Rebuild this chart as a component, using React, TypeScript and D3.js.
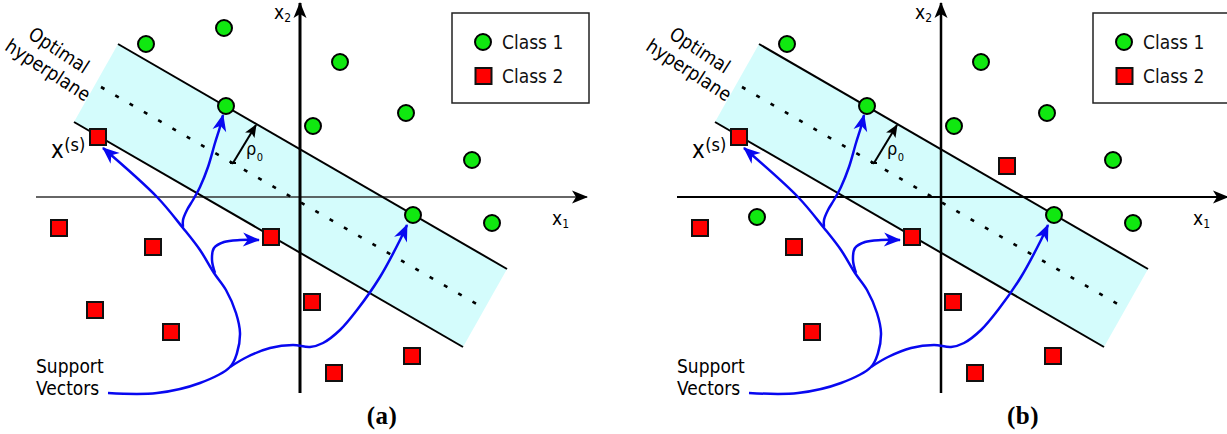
import React from 'react';
import * as d3 from 'd3';

type Pt = [number, number];

// Coordinates are in plot units: origin at the axes crossing, 1 unit = 10 px, y up
const class1A: Pt[] = [
  [-15.4, 15.3], [-7.6, 16.9], [4.0, 13.5], [1.3, 7.1], [10.6, 8.4],
  [17.2, 3.7], [19.2, -2.6], [-7.4, 9.1], [11.3, -1.8],
];
const class2A: Pt[] = [
  [-20.2, 6.0], [-24.1, -3.1], [-14.7, -5.0], [-20.5, -11.3], [-12.9, -13.5],
  [-2.9, -4.0], [1.2, -10.5], [3.4, -17.6], [11.2, -15.9],
];
const class1B: Pt[] = [
  [-15.4, 15.3], [-18.4, -2.0], [4.0, 13.5], [1.3, 7.1], [10.6, 8.4],
  [17.2, 3.7], [19.2, -2.6], [-7.4, 9.1], [11.3, -1.8],
];
const class2B: Pt[] = [
  [-20.2, 6.0], [-24.1, -3.1], [-14.7, -5.0], [6.6, 3.1], [-12.9, -13.5],
  [-2.9, -4.0], [1.2, -10.5], [3.4, -17.6], [11.2, -15.9],
];

const upperMargin: Pt[] = [[-18.2, 15.3], [20.7, -7.2]];
const lowerMargin: Pt[] = [[-22.6, 7.5], [16.3, -15.0]];
const hyperplane: Pt[] = [[-19.9, 11.0], [18.2, -11.0]];
const rhoArrow: Pt[] = [[-6.7, 3.4], [-4.4, 7.2]];
const xAxisLine: Pt[] = [[-26.4, 0], [28.7, 0]];
const yAxisLine: Pt[] = [[0, -19.6], [0, 19.4]];

// support vector pointers (blue)
const toXsCurve: Pt[] = [
  [-19.2, -19.6], [-14.3, -19.6], [-10.0, -18.6], [-7.0, -17.0], [-6.3, -15.6],
  [-6.0, -13.6], [-6.4, -11.6], [-7.4, -9.3], [-8.6, -7.6], [-10.0, -5.3],
  [-11.7, -3.1], [-14.3, 0], [-19.7, 4.9],
];
const toRightCurve: Pt[] = [
  [-7.0, -17.0], [-5.3, -16.0], [-3.0, -15.1], [-0.7, -14.8], [1.0, -15.0],
  [2.3, -14.6], [4.0, -13.3], [5.7, -11.3], [8.0, -8.0], [10.0, -4.3], [10.7, -2.8],
];
const toRedCurve: Pt[] = [
  [-8.5, -7.6], [-8.8, -6.3], [-8.6, -5.1], [-7.6, -4.5], [-6.0, -4.3], [-4.1, -4.3],
];
const toGreenCurve: Pt[] = [
  [-11.7, -3.0], [-11.7, -2.3], [-11.3, -1.3], [-10.7, -0.3], [-10.0, 1.0],
  [-9.2, 3.0], [-8.5, 5.4], [-8.0, 7.0], [-7.7, 8.2],
];

const legendLabels = ['Class 1', 'Class 2'];
const captions = ['(a)', '(b)'];
const panelOffsets = [0, 641];

const FONT = "'DejaVu Sans Condensed', 'DejaVu Sans', sans-serif";
const GREEN = '#10e810';
const RED = '#ff0000';
const BLUE = '#0808f0';
const CYAN = '#d4fcfc';

const x = d3.scaleLinear().domain([-30, 30]).range([0, 600]);
const y = d3.scaleLinear().domain([-20, 20]).range([397, -3]);

const smooth = d3.line<Pt>().x(d => x(d[0])).y(d => y(d[1])).curve(d3.curveCatmullRom.alpha(0.5));
const straight = d3.line<Pt>().x(d => x(d[0])).y(d => y(d[1]));

interface PanelProps {
  idx: number;
  class1: Pt[];
  class2: Pt[];
  xAxisWidth: number;
  xAxisColor: string;
  yAxisWidth: number;
}

const Panel: React.FC<PanelProps> = ({ idx, class1, class2, xAxisWidth, xAxisColor, yAxisWidth }) => {
  const band: Pt[] = [upperMargin[0], upperMargin[1], lowerMargin[1], lowerMargin[0]];
  const id = (n: string) => `${n}-${idx}`;
  return (
    <g transform={`translate(${panelOffsets[idx]},0)`}>
      <defs>
        <marker id={id('blueHead')} viewBox="-18 -9 20 18" refX={0} refY={0} markerWidth={20} markerHeight={18}
          markerUnits="userSpaceOnUse" orient="auto">
          <path d="M1,0 L-16,-7 L-11,0 L-16,7 Z" fill={BLUE} />
        </marker>
        <marker id={id('blackHead')} viewBox="-18 -9 20 18" refX={0} refY={0} markerWidth={20} markerHeight={18}
          markerUnits="userSpaceOnUse" orient="auto">
          <path d="M1,0 L-15,-6.5 L-11,0 L-15,6.5 Z" fill="#000" />
        </marker>
        <marker id={id('rhoHead')} viewBox="-18 -9 20 18" refX={0} refY={0} markerWidth={20} markerHeight={18}
          markerUnits="userSpaceOnUse" orient="auto">
          <path d="M1,0 L-12,-5.5 L-9,0 L-12,5.5 Z" fill="#000" />
        </marker>
      </defs>

      {/* margin band */}
      <path d={straight(band) + 'Z'} fill={CYAN} stroke="none" />

      {/* axes */}
      <path d={straight(xAxisLine)!} stroke={xAxisColor} strokeWidth={xAxisWidth} fill="none"
        markerEnd={`url(#${id('blackHead')})`} />
      <path d={straight(yAxisLine)!} stroke="#000" strokeWidth={yAxisWidth} fill="none"
        markerEnd={`url(#${id('blackHead')})`} />

      {/* margins and hyperplane */}
      <path d={straight(upperMargin)!} stroke="#000" strokeWidth={2} fill="none" />
      <path d={straight(lowerMargin)!} stroke="#000" strokeWidth={2} fill="none" />
      <path d={straight(hyperplane)!} stroke="#000" strokeWidth={2.6} strokeDasharray="4 12.5" fill="none" />

      {/* rho arrow */}
      <path d={straight(rhoArrow)!} stroke="#000" strokeWidth={2} fill="none" markerEnd={`url(#${id('rhoHead')})`} />
      <line x1={x(rhoArrow[0][0]) - 3} y1={y(rhoArrow[0][1])} x2={x(rhoArrow[0][0]) + 3} y2={y(rhoArrow[0][1])}
        stroke="#000" strokeWidth={2} />
      <text x={246} y={155} fontFamily={FONT} fontSize={18}>
        ρ<tspan dx={0.5} dy={6} fontSize={11}>0</tspan>
      </text>

      {/* axis labels */}
      <text x={274} y={19} fontFamily={FONT} fontSize={19}>
        x<tspan dy={3} fontSize={12}>2</tspan>
      </text>
      <text x={552} y={225} fontFamily={FONT} fontSize={19}>
        x<tspan dy={3} fontSize={12}>1</tspan>
      </text>

      {/* blue pointers */}
      {[toXsCurve, toRightCurve, toRedCurve, toGreenCurve].map((c, i) => (
        <path key={i} d={smooth(c)!} stroke={BLUE} strokeWidth={2.5} fill="none"
          markerEnd={`url(#${id('blueHead')})`} />
      ))}

      {/* points */}
      {class1.map((d, i) => (
        <circle key={`c1-${i}`} cx={x(d[0])} cy={y(d[1])} r={8} fill={GREEN} stroke="#000" strokeWidth={2} />
      ))}
      {class2.map((d, i) => (
        <rect key={`c2-${i}`} x={x(d[0]) - 8} y={y(d[1]) - 8} width={16} height={16}
          fill={RED} stroke="#111" strokeWidth={2} />
      ))}

      {/* labels */}
      <g transform="translate(59,50) rotate(33)">
        <text textAnchor="middle" dy="0.35em" fontFamily={FONT} fontSize={19}>Optimal</text>
      </g>
      <g transform="translate(48,70) rotate(33)">
        <text textAnchor="middle" dy="0.35em" fontFamily={FONT} fontSize={19}>hyperplane</text>
      </g>
      <text x={51} y={158} fontFamily={FONT} fontSize={24}>
        x<tspan dx={0.5} dy={-7} fontSize={18}>(s)</tspan>
      </text>
      <text x={36} y={373} fontFamily={FONT} fontSize={19}>Support</text>
      <text x={36} y={395} fontFamily={FONT} fontSize={19}>Vectors</text>

      {/* legend */}
      <rect x={452} y={13} width={137} height={90} fill="#fff" stroke="#222" strokeWidth={1.5} />
      <circle cx={483} cy={42} r={8} fill={GREEN} stroke="#000" strokeWidth={2} />
      <rect x={475.5} y={68} width={16} height={16} fill={RED} stroke="#111" strokeWidth={2} />
      {legendLabels.map((l, i) => (
        <text key={l} x={502} y={49 + i * 34} fontFamily={FONT} fontSize={19} fill="#111">{l}</text>
      ))}

      {/* caption */}
      <text x={382} y={424} textAnchor="middle" fontFamily="'Liberation Serif', 'Times New Roman', serif"
        fontWeight="bold" fontSize={25} letterSpacing={0.5}>{captions[idx]}</text>
    </g>
  );
};

export default function App() {
  return (
    <svg width={1227} height={434} style={{ position: 'absolute', left: 0, top: 0, background: '#fff' }}>
      <rect width={1227} height={434} fill="#fff" />
      <Panel idx={0} class1={class1A} class2={class2A} xAxisWidth={1.5} xAxisColor="#333" yAxisWidth={3} />
      <Panel idx={1} class1={class1B} class2={class2B} xAxisWidth={2} xAxisColor="#000" yAxisWidth={2.5} />
    </svg>
  );
}
